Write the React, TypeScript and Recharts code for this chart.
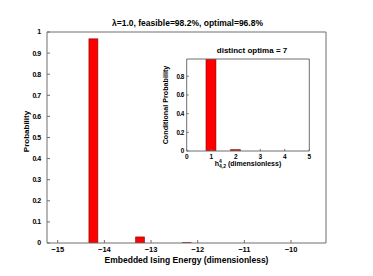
import React from "react";
import { ComposedChart, Bar, XAxis, YAxis } from "recharts";

// Main histogram
const energies = [-14.24, -13.24, -12.24];
const probabilities = [0.968, 0.029, 0.002];
const xTicks = [-15, -14, -13, -12, -11, -10];
const yTicks = [0, 0.1, 0.2, 0.3, 0.4, 0.5, 0.6, 0.7, 0.8, 0.9, 1];

// Inset histogram
const insetH = [1, 2];
const insetP = [0.985, 0.015];
const insetXTicks = [0, 1, 2, 3, 4, 5];
const insetYTicks = [0, 0.2, 0.4, 0.6, 0.8];

const title = "λ=1.0, feasible=98.2%, optimal=96.8%";
const insetTitle = "distinct optima = 7";
const xLabel = "Embedded Ising Energy (dimensionless)";
const yLabel = "Probability";
const insetYLabel = "Conditional Probability";

const FONT = "'Liberation Sans', Arial, Helvetica, sans-serif";
const AXIS = "#6e6e6e";
const RED = "#ff0000";
const EDGE = "#5a0000";

const mainData = energies.map((e, i) => ({ e, p: probabilities[i] }));
const insetData = insetH.map((h, i) => ({ h, p: insetP[i] }));

const fmtMinus = (v: number) => (v < 0 ? "\u2212" + Math.abs(v) : String(v));

const tickStyle = (size: number, spacing = 0) => ({
  fill: "#000",
  fontSize: size,
  fontWeight: "bold" as const,
  fontFamily: FONT,
  letterSpacing: spacing,
});

export default function App() {
  return (
    <div style={{ position: "absolute", left: 0, top: 0, width: 373, height: 276, background: "#fff", fontFamily: FONT }}>
      <ComposedChart
        width={373}
        height={276}
        data={mainData}
        margin={{ top: 31, right: 46, bottom: 0, left: 0 }}
      >
        <XAxis
          dataKey="e"
          type="number"
          domain={[-15.23, -9.25]}
          ticks={xTicks}
          allowDataOverflow
          interval={0}
          height={33}
          tickSize={-3}
          tickMargin={7}
          stroke={AXIS}
          tick={tickStyle(7.5)}
          tickFormatter={fmtMinus}
          label={{
            content: (props: any) => {
              const vb = props.viewBox;
              return (
                <text
                  x={vb.x + vb.width / 2}
                  y={vb.y + 20}
                  textAnchor="middle"
                  fontSize={8.5}
                  fontWeight="bold"
                  fontFamily={FONT}
                  fill="#000"
                >
                  {xLabel}
                </text>
              );
            },
          }}
        />
        <XAxis
          xAxisId="top"
          dataKey="e"
          orientation="top"
          type="number"
          domain={[-15.23, -9.25]}
          ticks={xTicks}
          allowDataOverflow
          interval={0}
          height={1}
          tickSize={-3}
          stroke={AXIS}
          tick={false}
        />
        <YAxis
          type="number"
          domain={[0, 1]}
          ticks={yTicks}
          allowDataOverflow
          interval={0}
          width={47}
          tickSize={-3}
          tickMargin={9.5}
          stroke={AXIS}
          tick={tickStyle(7, -0.6)}
          label={{
            content: (props: any) => {
              const vb = props.viewBox;
              const cx = 28.6;
              const cy = vb.y + vb.height / 2 - 6;
              return (
                <g>
                  <text
                    x={cx}
                    y={cy}
                    transform={`rotate(-90, ${cx}, ${cy})`}
                    textAnchor="middle"
                    fontSize={8}
                    fontWeight="bold"
                    fontFamily={FONT}
                    fill="#000"
                  >
                    {yLabel}
                  </text>
                  <text
                    x={187.5}
                    y={26}
                    textAnchor="middle"
                    fontSize={8.5}
                    fontWeight="bold"
                    fontFamily={FONT}
                    fill="#000"
                  >
                    {title}
                  </text>
                </g>
              );
            },
          }}
        />
        <YAxis
          yAxisId="r"
          orientation="right"
          type="number"
          domain={[0, 1]}
          ticks={yTicks}
          allowDataOverflow
          interval={0}
          width={1}
          tickSize={-3}
          stroke={AXIS}
          tick={false}
        />
        <Bar
          dataKey="p"
          fill={RED}
          stroke={EDGE}
          strokeWidth={0.5}
          barSize={9}
          isAnimationActive={false}
        />
      </ComposedChart>

      <div style={{ position: "absolute", left: 150, top: 40, width: 170, height: 140 }}>
        <ComposedChart
          width={170}
          height={140}
          data={insetData}
          margin={{ top: 18, right: 9.7, bottom: 0, left: 0 }}
        >
          <XAxis
            dataKey="h"
            type="number"
            domain={[0, 5]}
            ticks={insetXTicks}
            allowDataOverflow
            interval={0}
            height={29}
            tickSize={-2}
            tickMargin={5.5}
            stroke={AXIS}
            tick={tickStyle(6.5)}
            label={{
              content: (props: any) => {
                const vb = props.viewBox;
                return (
                  <text
                    x={vb.x + vb.width / 2}
                    y={vb.y + 14.5}
                    textAnchor="middle"
                    fontSize={7}
                    fontWeight="bold"
                    fontFamily={FONT}
                    fill="#000"
                  >
                    h
                    <tspan fontSize={5} dy={-3}>4</tspan>
                    <tspan fontSize={5} dx={-2.8} dy={5.5}>4,2</tspan>
                    <tspan dy={-2.5}> (dimensionless)</tspan>
                  </text>
                );
              },
            }}
          />
          <XAxis
            xAxisId="top"
            dataKey="h"
            orientation="top"
            type="number"
            domain={[0, 5]}
            ticks={insetXTicks}
            allowDataOverflow
            interval={0}
            height={1}
            tickSize={-2}
            stroke={AXIS}
            tick={false}
          />
          <YAxis
            type="number"
            domain={[0, 0.985]}
            ticks={insetYTicks}
            allowDataOverflow
            interval={0}
            width={36.7}
            tickSize={-2}
            tickMargin={5}
            stroke={AXIS}
            tick={tickStyle(6.3, -0.5)}
            label={{
              content: (props: any) => {
                const vb = props.viewBox;
                const cx = 17.5;
                const cy = vb.y + vb.height / 2;
                return (
                  <g>
                    <text
                      x={cx}
                      y={cy}
                      transform={`rotate(-90, ${cx}, ${cy})`}
                      textAnchor="middle"
                      fontSize={7.2}
                      fontWeight="bold"
                      fontFamily={FONT}
                      fill="#000"
                    >
                      {insetYLabel}
                    </text>
                    <text
                      x={102}
                      y={12.5}
                      textAnchor="middle"
                      fontSize={8}
                      fontWeight="bold"
                      fontFamily={FONT}
                      fill="#000"
                    >
                      {insetTitle}
                    </text>
                  </g>
                );
              },
            }}
          />
          <YAxis
            yAxisId="r"
            orientation="right"
            type="number"
            domain={[0, 0.985]}
            ticks={insetYTicks}
            allowDataOverflow
            interval={0}
            width={1}
            tickSize={-2}
            stroke={AXIS}
            tick={false}
          />
          <Bar
            dataKey="p"
            fill={RED}
            stroke={EDGE}
            strokeWidth={0.5}
            barSize={10}
            isAnimationActive={false}
          />
        </ComposedChart>
      </div>
    </div>
  );
}
